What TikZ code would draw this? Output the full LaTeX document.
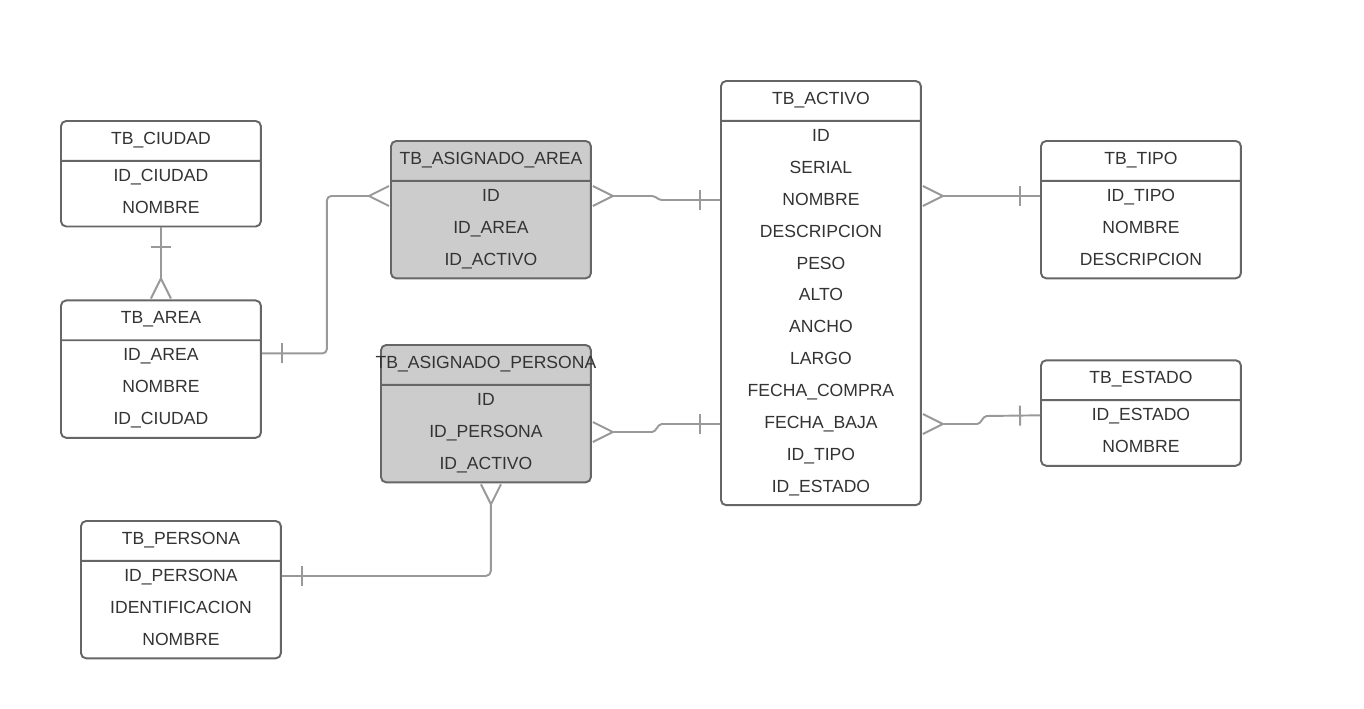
\documentclass[tikz,border=0pt]{standalone}
\usepackage{fontspec}
\setmainfont{Liberation Sans}
\usepackage{xcolor}
\usetikzlibrary{positioning,arrows.meta,shapes.multipart,decorations.markings,calc}
\definecolor{cborde}{HTML}{666666}
\definecolor{clinea}{HTML}{999999}
\definecolor{crelleno}{HTML}{CCCCCC}
\definecolor{ctexto}{HTML}{333333}
\newcommand{\cab}{\rule[-8.9pt]{0pt}{21.58pt}}
\newcommand{\fila}{\rule[-6.9pt]{0pt}{18.14pt}}
\tikzset{
  tabla/.style={rectangle split, rectangle split parts=2, draw=cborde, line width=1.1pt,
    rounded corners=3pt, fill=white, text=ctexto, text width=4cm, align=center,
    inner sep=0pt, anchor=north west, font=\fontsize{10pt}{18.14pt}\selectfont},
  tablag/.style={tabla, fill=crelleno},
  pata/.tip={Straight Barb[reversed, length=0.4cm, width=0.4cm]},
  rel/.style={draw=clinea, line width=1.1pt, rounded corners=2.5pt},
  salto/.style={rounded corners=1pt},
  unoini/.style={postaction={decorate, decoration={markings,
    mark=at position 0.4cm with {\draw[clinea, line width=1.1pt, -] (0,-0.2cm) -- (0,0.2cm);}}}},
  unofin/.style={postaction={decorate, decoration={markings,
    mark=at position -0.4cm with {\draw[clinea, line width=1.1pt, -] (0,-0.2cm) -- (0,0.2cm);}}}},
}

\begin{document}
\begin{tikzpicture}[x=0.02cm, y=-0.02cm]
  \useasboundingbox (0,0) rectangle (1364,708);
  \node[tabla] (ciudad) at (60,120) {\cab TB\_CIUDAD\nodepart{two}\fila ID\_CIUDAD\\\fila NOMBRE};
  \node[tabla, anchor=north, below=1.44cm of ciudad] (area) {\cab TB\_AREA\nodepart{two}\fila ID\_AREA\\\fila NOMBRE\\\fila ID\_CIUDAD};
  \node[tablag] (asigarea) at (390,140) {\cab TB\_ASIGNADO\_AREA\nodepart{two}\fila ID\\\fila ID\_AREA\\\fila ID\_ACTIVO};
  \node[tablag, text width=4.2cm] (asigpers) at (380,344) {\cab\makebox[4.2cm]{TB\_ASIGNADO\_PERSONA}\nodepart{two}\fila ID\\\fila ID\_PERSONA\\\fila ID\_ACTIVO};
  \node[tabla] (persona) at (80,520) {\cab TB\_PERSONA\nodepart{two}\fila ID\_PERSONA\\\fila IDENTIFICACION\\\fila NOMBRE};
  \node[tabla] (activo) at (720,80) {\cab TB\_ACTIVO\nodepart{two}\fila ID\\\fila SERIAL\\\fila NOMBRE\\\fila DESCRIPCION\\\fila PESO\\\fila ALTO\\\fila ANCHO\\\fila LARGO\\\fila FECHA\_COMPRA\\\fila FECHA\_BAJA\\\fila ID\_TIPO\\\fila ID\_ESTADO};
  \node[tabla] (tipo) at (1040,140) {\cab TB\_TIPO\nodepart{two}\fila ID\_TIPO\\\fila NOMBRE\\\fila DESCRIPCION};
  \node[tabla, anchor=north, below=1.6cm of tipo] (estado) {\cab TB\_ESTADO\nodepart{two}\fila ID\_ESTADO\\\fila NOMBRE};

  \draw[rel, unoini, -{pata}] (ciudad.south) -- (area.north);
  \draw[rel, unoini, -{pata}] ($(area.north east)+(0,54)$) -- ++(65,0) |- ($(asigarea.north west)+(0,56)$);
  \draw[rel, salto, unofin, {pata}-] ($(asigarea.north east)+(0,56)$) -- ++(62,0) -- ++(6,4) -- ($(activo.north west)+(0,120)$);
  \draw[rel, salto, unofin, {pata}-] ($(asigpers.north east)+(0,88)$) -- ++(62,0) -- ++(6,-8) -- ($(activo.north west)+(0,344)$);
  \draw[rel, unoini, -{pata}, rounded corners=3pt] ($(persona.north east)+(0,56)$) -| ($(asigpers.south)+(5,0)$);
  \draw[rel, unofin, {pata}-] ($(activo.north east)+(0,116)$) -- ($(tipo.north west)+(0,56)$);
  \draw[rel, salto, unofin, {pata}-] ($(activo.north east)+(0,344)$) -- ++(57,0) -- ++(6,-8) -- ($(estado.north west)+(0,56)$);
\end{tikzpicture}
\end{document}
